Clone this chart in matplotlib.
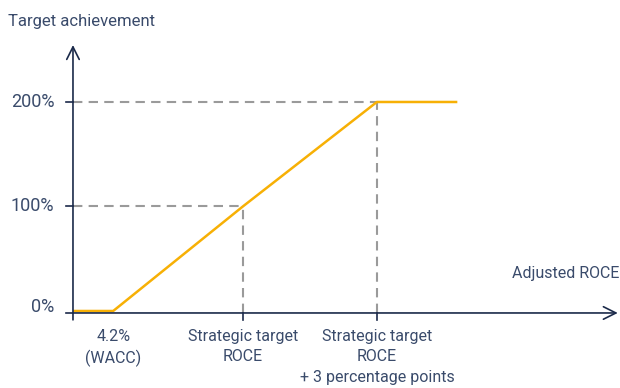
import matplotlib.pyplot as plt
from matplotlib.patches import FancyArrowPatch

# target achievement curve (x in ROCE %-points, y in % achievement)
roce = [3.3, 4.2, 7.1, 10.1, 11.9]
achievement = [0, 0, 100, 200, 200]

y_ticks = [0, 100, 200]
y_tick_labels = ["0%", "100%", "200%"]
x_ticks = [4.2, 7.1, 10.1]
x_tick_labels = ["4.2%\n(WACC)", "Strategic target\nROCE", "Strategic target\nROCE\n+ 3 percentage points"]

NAVY = "#1b2a4a"
TEXT = "#3a4b6b"
GRAY = "#9a9a9a"
YELLOW = "#f7b005"

plt.rcParams["font.family"] = ["Roboto", "DejaVu Sans"]

fig = plt.figure(figsize=(6.2, 3.88), dpi=100)
ax = fig.add_axes([0, 0, 1, 1])
ax.set_xlim(1.667, 15.54)
ax.set_ylim(-73.7, 297.6)
ax.axis("off")

x0 = roce[0]
y_axis = -1.9

# dashed guide lines
for xv, yv in zip(roce[2:4], achievement[2:4]):
    ax.plot([x0, xv], [yv, yv], color=GRAY, lw=1.5, ls=(0, (4.5, 3)), zorder=1)
    ax.plot([xv, xv], [y_axis, yv], color=GRAY, lw=1.5, ls=(0, (4.5, 3)), zorder=1)

ax.plot(roce, achievement, color=YELLOW, lw=1.8, zorder=3, solid_capstyle="butt")

# axes with open arrow heads
arr_kw = dict(arrowstyle="->,head_length=0.9,head_width=0.45", mutation_scale=10,
              color=NAVY, lw=1.2, shrinkA=0, shrinkB=0, zorder=4)
ax.add_patch(FancyArrowPatch((x0, -8.5), (x0, 254.5), **arr_kw))
ax.add_patch(FancyArrowPatch((x0, y_axis), (15.49, y_axis), **arr_kw))

# tick marks
for yt in y_ticks:
    yy = y_axis if yt == 0 else yt
    ax.plot([x0 - 0.16, x0], [yy, yy], color=NAVY, lw=1.2, zorder=4)
for xt in x_ticks[1:]:
    ax.plot([xt, xt], [y_axis, -8.5], color=NAVY, lw=1.2, zorder=4)

# labels
for yt, lab in zip(y_ticks, y_tick_labels):
    ax.text(2.88, yt + (4 if yt == 0 else 0), lab, ha="right", va="center",
            fontsize=13, color=TEXT)
for xt, lab in zip(x_ticks, x_tick_labels):
    ax.text(xt, -17, lab, ha="center", va="top", fontsize=11.5, color=TEXT,
            linespacing=1.45)

ax.text(0.013, 0.945, "Target achievement", transform=ax.transAxes, ha="left",
        va="center", fontsize=12, color=TEXT)
ax.text(15.52, 36, "Adjusted ROCE", ha="right", va="center", fontsize=11.5, color=TEXT)

fig.savefig("out.png", dpi=100)
